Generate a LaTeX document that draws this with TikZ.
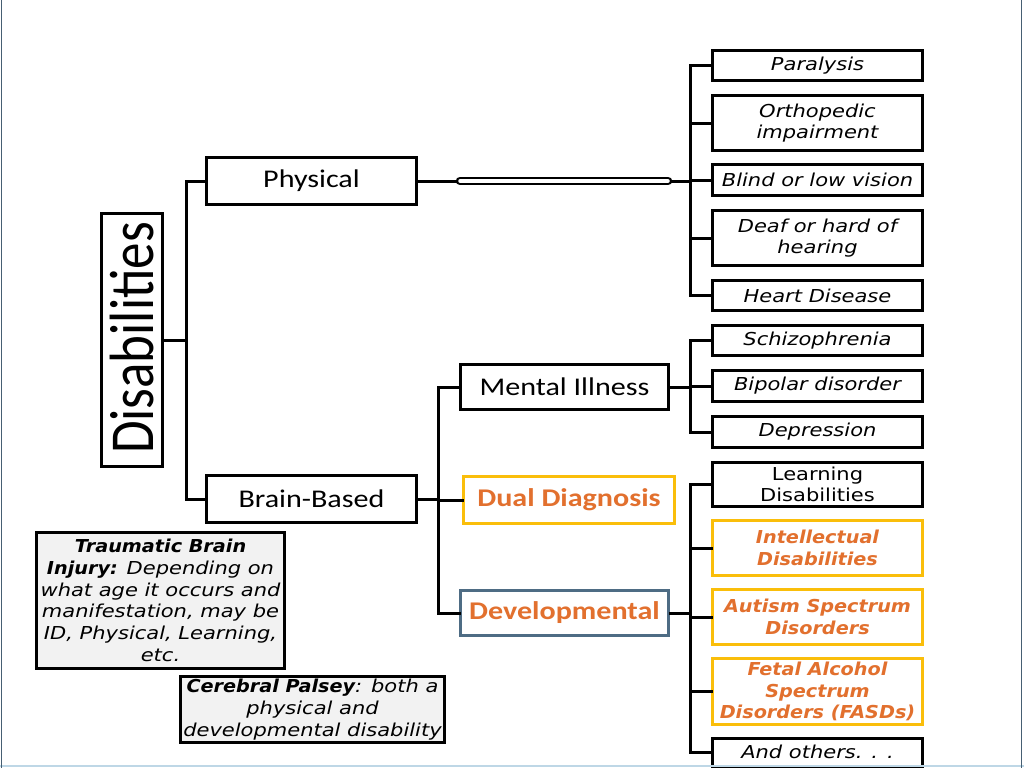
\documentclass[tikz,border=0pt]{standalone}
\usepackage{fontspec}
\setmainfont{Carlito}[FakeStretch=1.18]
\newfontfamily\leaffont{DejaVu Sans}[FakeStretch=1.18,BoldFont={DejaVu Sans Bold},ItalicFont={DejaVu Sans Oblique},BoldItalicFont={DejaVu Sans Bold Oblique},BoldItalicFeatures={FakeStretch=1.08},BoldFeatures={FakeStretch=1.08}]
\newfontfamily\disfont{Carlito}
\definecolor{orangetxt}{RGB}{226,112,46}
\definecolor{goldline}{RGB}{250,190,10}
\definecolor{slateline}{RGB}{78,108,132}
\definecolor{notefill}{RGB}{242,242,242}
\definecolor{frameline}{RGB}{70,95,115}
\definecolor{framelight}{RGB}{190,215,230}
\tikzset{
  box/.style={draw=black,line width=3pt,fill=white,inner sep=0pt,align=center},
  title/.style={box,minimum width=210pt,minimum height=47pt,font=\fontsize{25.5}{30}\selectfont},
  leaf/.style={box,minimum width=210pt,font=\leaffont\itshape\fontsize{17.8}{21.6}\selectfont},
  goldleaf/.style={leaf,draw=goldline,text=orangetxt,font=\leaffont\bfseries\itshape\fontsize{17.8}{21.6}\selectfont},
  note/.style={draw=black,line width=3.5pt,fill=notefill,inner sep=0pt,align=center,font=\leaffont\itshape\fontsize{17.8}{21.7}\selectfont},
  conn/.style={line width=3pt,line cap=rect},
}
\begin{document}
\begin{tikzpicture}[x=1pt,y=-1pt]
\useasboundingbox (0,0) rectangle (1024,768);
\fill[white] (0,0) rectangle (1024,768);

% root
\node[box,minimum width=61pt,minimum height=253pt] (dis) at (132,340) {};
\node[rotate=90] (distext) at (132,338) {\scalebox{1}[1.18]{\disfont\fontsize{53}{60}\selectfont Disabilities}};

% level 1
\node[title] (phys) at (311.5,181) {Physical};
\node[title] (brain) at (311.5,499) {Brain-Based};

% level 2
\node[title,minimum width=208pt,minimum height=45pt] (mental) at (564.5,387) {Mental Illness};
\node[title,draw=goldline,text=orangetxt,minimum width=211pt,font=\bfseries\fontsize{25.5}{30}\selectfont] (dual) at (569,500) {Dual Diagnosis};
\node[title,draw=slateline,text=orangetxt,minimum width=208pt,minimum height=45pt,font=\bfseries\fontsize{25.5}{30}\selectfont] (dev) at (564.5,613) {Developmental};

% leaves
\node[leaf,minimum height=30pt] (para) at (817.5,65.5) {Paralysis};
\node[leaf,minimum height=55pt] (ortho) at (817.5,123) {Orthopedic\\impairment};
\node[leaf,minimum height=31pt] (blind) at (817.5,180) {Blind or low vision};
\node[leaf,minimum height=55pt] (deaf) at (817.5,238) {Deaf or hard of\\hearing};
\node[leaf,minimum height=30pt] (heart) at (817.5,295.5) {Heart Disease};
\node[leaf,minimum height=30pt] (schiz) at (817.5,340.5) {Schizophrenia};
\node[leaf,minimum height=31pt] (bipol) at (817.5,386) {Bipolar disorder};
\node[leaf,minimum height=31pt] (depr) at (817.5,432) {Depression};
\node[leaf,minimum height=44pt,font=\leaffont\fontsize{17.8}{21.6}\selectfont] (learn) at (817.5,484.5) {Learning\\Disabilities};
\node[goldleaf,minimum height=55pt] (intel) at (817.5,548) {Intellectual\\Disabilities};
\node[goldleaf,minimum height=55pt] (autism) at (817.5,617) {Autism Spectrum\\Disorders};
\node[goldleaf,minimum height=66pt] (fetal) at (817.5,691.5) {Fetal Alcohol\\Spectrum\\Disorders (FASDs)};
\node[leaf,minimum height=28pt] (others) at (817.5,752) {And others. . .};

% notes
\node[note,minimum width=248pt,minimum height=136pt] (tbi) at (160.5,600.5) {\textbf{Traumatic Brain}\\\textbf{Injury:} Depending on\\what age it occurs and\\manifestation, may be\\ID, Physical, Learning,\\etc.};
\node[note,minimum width=264pt,minimum height=66pt] (cp) at (312.5,709.5) {\textbf{Cerebral Palsey}: both a\\physical and\\developmental disability};

% connectors: root
\coordinate (j0) at (186,340);
\draw[conn] (dis.east) -- (j0);
\draw[conn] (phys.west) -- (phys.west -| j0) -- (brain.west -| j0) -- (brain.west);

% physical branch
\coordinate (b1) at (460,181);
\coordinate (b2) at (668,181);
\coordinate (j1) at (690,181);
\draw[conn] (phys.east) -- (b1);
\draw[conn] (b2) -- (j1);
\draw[line width=2.5pt,double=white,double distance=3.5pt,line cap=round] (b1) -- (b2);
\draw[conn] (para.west) -- (para.west -| j1) -- (heart.west -| j1) -- (heart.west);
\draw[conn] (ortho.west) -- (ortho.west -| j1);
\draw[conn] (blind.west) -- (blind.west -| j1);
\draw[conn] (deaf.west) -- (deaf.west -| j1);

% brain-based branch
\coordinate (j2) at (438,499);
\draw[conn] (brain.east) -- (j2);
\draw[conn] (mental.west) -- (mental.west -| j2) -- (dev.west -| j2) -- (dev.west);
\draw[conn] (dual.west) -- (dual.west -| j2);

% mental illness branch
\coordinate (j3) at (690,387);
\draw[conn] (mental.east) -- (j3);
\draw[conn] (schiz.west) -- (schiz.west -| j3) -- (depr.west -| j3) -- (depr.west);
\draw[conn] (bipol.west) -- (bipol.west -| j3);

% developmental branch
\coordinate (j4) at (690,613);
\draw[conn] (dev.east) -- (j4);
\draw[conn] (learn.west) -- (learn.west -| j4) -- (others.west -| j4) -- (others.west);
\draw[conn] (intel.west) -- (intel.west -| j4);
\draw[conn] (autism.west) -- (autism.west -| j4);
\draw[conn] (fetal.west) -- (fetal.west -| j4);

% slide frame
\draw[framelight,line width=2pt] (0,766) -- (1024,766);
\draw[frameline,line width=1.2pt] (1.5,0) -- (1.5,768);
\draw[frameline,line width=1.2pt] (1021.5,0) -- (1021.5,768);
\end{tikzpicture}
\end{document}
